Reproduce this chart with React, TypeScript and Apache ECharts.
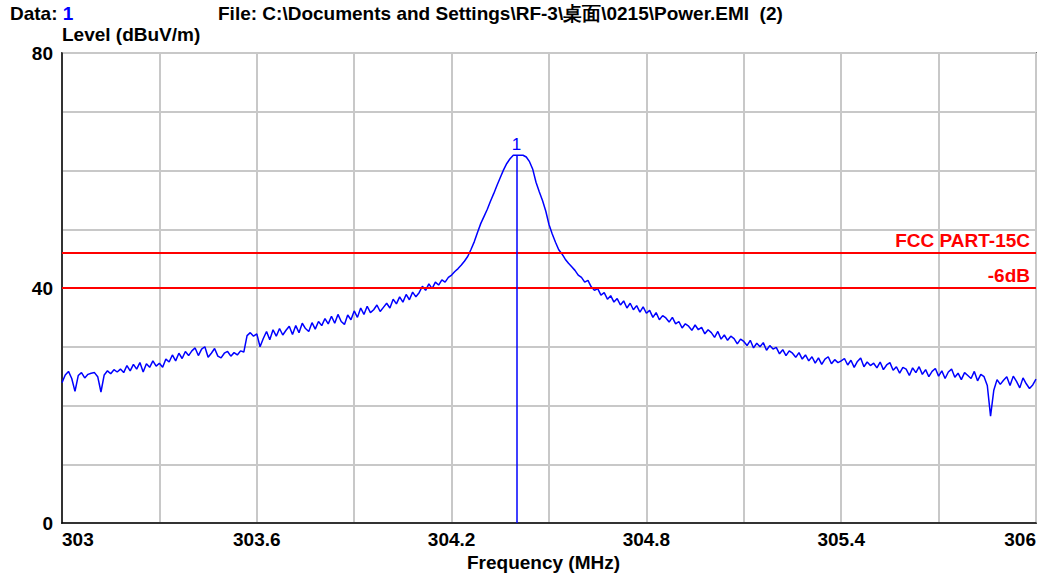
import React, { useEffect, useRef } from "react";
import * as echarts from "echarts";

// Sweep: 303.00 MHz to 306.00 MHz in 0.01 MHz steps
const startFreq = 303.0;
const stepMHz = 0.01;
const levels: number[] = [
  23.9, 25.2, 25.8, 24.6, 22.4, 25.1, 25.6, 24.7, 25.3, 25.5,
  25.6, 24.9, 22.3, 25.2, 25.9, 25.4, 26.1, 25.7, 26.2, 25.6,
  26.8, 25.9, 27.0, 26.2, 27.3, 25.7, 27.1, 26.5, 27.6, 26.7,
  27.2, 26.5, 27.9, 27.4, 28.6, 27.6, 28.9, 28.0, 29.2, 28.5,
  29.3, 29.8, 28.5, 29.6, 30.0, 28.2, 28.9, 29.7, 28.4, 28.1,
  28.9, 29.2, 28.4, 29.0, 28.6, 29.3, 29.1, 31.9, 32.4, 31.8,
  32.2, 30.0, 31.4, 32.6, 31.2, 32.9, 31.8, 33.1, 32.0, 32.8,
  33.5, 32.1, 33.6, 32.4, 34.0, 33.1, 32.6, 34.1, 33.0, 34.3,
  33.6, 34.8, 33.9, 35.2, 34.0, 35.5, 34.3, 33.8, 35.4, 34.6,
  36.1, 35.0, 36.6, 35.5, 36.9, 35.8, 36.3, 37.1, 36.0, 36.7,
  37.4, 36.6, 38.1, 37.3, 38.5, 37.6, 38.9, 38.0, 39.3, 38.5,
  39.2, 40.3, 39.6, 40.7, 39.9, 41.0, 40.5, 41.4, 41.0, 41.8,
  42.2, 42.8, 43.3, 43.9, 44.6, 45.4, 46.6, 47.9, 49.5, 51.0,
  52.2, 53.4, 54.8, 56.1, 57.5, 58.8, 60.1, 61.2, 62.0, 62.6,
  62.6, 62.6, 62.6, 62.3, 61.5, 60.2, 58.0, 56.4, 54.9, 53.1,
  50.8, 49.2, 47.8, 46.5, 45.8, 44.9, 44.2, 43.6, 43.0, 42.2,
  41.8, 41.0, 41.3, 40.2, 39.6, 39.9, 38.8, 39.2, 38.1, 38.7,
  37.6, 38.2, 37.1, 37.8, 36.6, 37.4, 36.3, 37.0, 35.9, 36.8,
  35.7, 36.2, 35.0, 35.8, 34.6, 35.3, 34.9, 34.2, 35.0, 33.9,
  34.3, 33.2, 33.9, 33.5, 32.8, 33.7, 32.9, 33.3, 32.2, 32.9,
  32.4, 31.6, 32.6, 31.3, 32.0, 31.1, 31.8, 31.4, 30.5, 31.3,
  30.9, 30.2, 31.1, 29.8, 30.6, 30.0, 30.7, 29.4, 30.2, 29.6,
  29.9, 28.8, 29.5, 28.5, 29.3, 28.9, 28.2, 29.0, 27.9, 28.6,
  27.6, 28.3, 27.2, 28.1, 27.0, 27.9, 28.3, 27.1, 27.8, 27.3,
  27.6, 28.0, 26.9, 27.7, 26.5, 27.5, 28.1, 26.6, 27.4, 26.8,
  27.2, 26.4, 27.4, 26.1, 26.9, 27.3, 26.0, 26.6, 25.5, 26.5,
  26.2, 25.1, 26.4, 25.6, 26.6, 25.3, 26.1, 24.9, 25.8, 26.3,
  25.0, 25.9, 24.6, 25.7, 26.2, 24.8, 25.5, 24.4, 25.6, 25.1,
  24.6, 25.8, 24.2, 25.3, 24.9, 23.4, 18.2, 22.6, 24.4, 23.6,
  24.3, 24.9, 23.4, 25.0, 24.1, 23.0, 24.7, 23.7, 22.9, 23.5,
  24.5,
];

const limitFCC = 46;
const limitFCCLabel = "FCC PART-15C";
const limit6dB = 40;
const limit6dBLabel = "-6dB";
const markerFreq = 304.4;
const markerLevel = 62.6;
const markerLabel = "1";
const xMin = 303;
const xMax = 306;
const xInterval = 0.3;
const yMin = 0;
const yMax = 80;
const yInterval = 10;
const yLabelValues = [0, 40, 80];
const xLabelValues = [303, 303.6, 304.2, 304.8, 305.4, 306];

const FONT = "'Liberation Sans', Arial, sans-serif";
const FS = 19;

export default function App() {
  const ref = useRef<HTMLDivElement>(null);
  useEffect(() => {
    if (!ref.current) return;
    const chart = echarts.init(ref.current, undefined, { renderer: "svg" });
    const data = levels.map((v, i) => [
      Math.round((startFreq + i * stepMHz) * 100) / 100,
      v,
    ]);
    const limitLabel = (text: string) => ({
      show: true,
      position: "insideEndTop",
      formatter: text,
      color: "#ff0000",
      fontFamily: FONT,
      fontWeight: "bold",
      fontSize: FS,
      distance: [6, 3],
    });
    chart.setOption({
      animation: false,
      backgroundColor: "#ffffff",
      grid: {
        left: 62,
        right: 22,
        top: 53,
        bottom: 54,
        show: true,
        borderColor: "#000000",
        borderWidth: 1.5,
        backgroundColor: "transparent",
      },
      graphic: [
        {
          type: "text",
          left: 10,
          top: 4,
          style: {
            text: "{a|Data: }{b|1}",
            rich: {
              a: { fontFamily: FONT, fontWeight: "bold", fontSize: FS, fill: "#000" },
              b: { fontFamily: FONT, fontWeight: "bold", fontSize: FS, fill: "#0000ff" },
            },
          },
        },
        {
          type: "text",
          left: 218,
          top: 4,
          style: {
            text: "File: C:\\Documents and Settings\\RF-3\\桌面\\0215\\Power.EMI  (2)",
            font: `bold ${FS}px ${FONT}`,
            fill: "#000",
          },
        },
        {
          type: "text",
          left: 62,
          top: 25,
          style: {
            text: "Level (dBuV/m)",
            font: `bold ${FS}px ${FONT}`,
            fill: "#000",
          },
        },
        {
          type: "text",
          left: 467,
          top: 553,
          style: {
            text: "Frequency (MHz)",
            font: `bold ${FS}px ${FONT}`,
            fill: "#000",
          },
        },
      ],
      xAxis: {
        type: "value",
        min: xMin,
        max: xMax,
        interval: xInterval,
        axisLine: { show: true, lineStyle: { color: "#000", width: 1.5 } },
        axisTick: { show: false },
        splitLine: { show: true, lineStyle: { color: "#c8c8c8", width: 2 } },
        axisLabel: {
          fontFamily: FONT,
          fontWeight: "bold",
          fontSize: FS,
          color: "#000",
          margin: 7,
          alignMinLabel: "left",
          alignMaxLabel: "right",
          formatter: (v: number) => {
            const r = Math.round(v * 10) / 10;
            return xLabelValues.some((x) => Math.abs(x - r) < 1e-6) ? String(r) : "";
          },
        },
      },
      yAxis: {
        type: "value",
        min: yMin,
        max: yMax,
        interval: yInterval,
        axisLine: { show: true, lineStyle: { color: "#000", width: 1.5 } },
        axisTick: { show: false },
        splitLine: { show: true, lineStyle: { color: "#c8c8c8", width: 2 } },
        axisLabel: {
          fontFamily: FONT,
          fontWeight: "bold",
          fontSize: FS,
          color: "#000",
          margin: 9,
          formatter: (v: number) => (yLabelValues.includes(v) ? String(v) : ""),
        },
      },
      series: [
        {
          type: "line",
          data,
          symbol: "none",
          lineStyle: { color: "#0000ff", width: 1.5 },
          itemStyle: { color: "#0000ff" },
          z: 3,
          markLine: {
            silent: true,
            symbol: ["none", "none"],
            data: [
              {
                yAxis: limitFCC,
                lineStyle: { color: "#ff0000", width: 2, type: "solid" },
                label: limitLabel(limitFCCLabel),
              },
              {
                yAxis: limit6dB,
                lineStyle: { color: "#ff0000", width: 2, type: "solid" },
                label: limitLabel(limit6dBLabel),
              },
              [
                {
                  coord: [markerFreq, markerLevel],
                  lineStyle: { color: "#0000ff", width: 1.5, type: "solid" },
                  label: {
                    show: true,
                    position: "start",
                    formatter: markerLabel,
                    color: "#0000ff",
                    fontFamily: FONT,
                    fontSize: 17,
                    distance: 2,
                  },
                },
                { coord: [markerFreq, yMin] },
              ],
            ],
          },
        },
      ],
    });
    return () => chart.dispose();
  }, []);
  return (
    <div
      ref={ref}
      style={{ position: "fixed", left: 0, top: 0, width: 1058, height: 577 }}
    />
  );
}
